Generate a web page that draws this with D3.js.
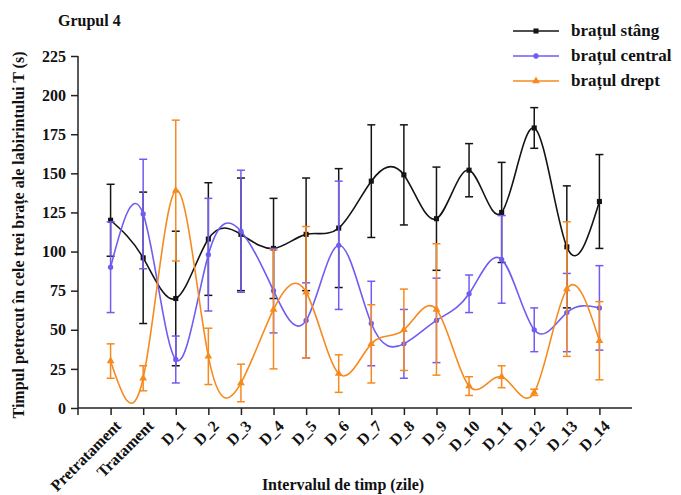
<!DOCTYPE html>
<html><head><meta charset="utf-8">
<script src="https://cdn.jsdelivr.net/npm/d3@7"></script>
<style>body{margin:0;background:#fff}svg{display:block}text{font-family:"Liberation Serif","Times New Roman",serif;font-weight:bold;fill:#111}</style>
</head><body><svg id="c" width="681" height="495"></svg>
<script>
const categories = ["Pretratament","Tratament","D_1","D_2","D_3","D_4","D_5","D_6","D_7","D_8","D_9","D_10","D_11","D_12","D_13","D_14"];
const stang      = [120, 96, 70, 108, 111, 102, 111, 115, 145, 149, 121, 152, 125, 179, 103, 132];
const stangErr   = [23, 42, 43, 36, 36, 32, 36, 38, 36, 32, 33, 17, 32, 13, 39, 30];
const central    = [90, 124, 31, 98, 113, 75, 56, 104, 54, 41, 56, 73, 95, 50, 61, 64];
const centralErr = [29, 35, 15, 36, 39, 27, 24, 41, 27, 22, 27, 12, 28, 14, 25, 27];
const drept      = [30, 19, 139, 33, 16, 63, 74, 22, 41, 50, 63, 14, 20, 10, 76, 43];
const dreptErr   = [11, 8, 45, 18, 12, 38, 42, 12, 25, 26, 42, 6, 7, 2, 43, 25];
const yTicks = [0,25,50,75,100,125,150,175,200,225];
const seriesNames = ["brațul stâng","brațul central","brațul drept"];

const series = [
  {name: seriesNames[0], vals: stang, errs: stangErr, color: "#141414", shape: d3.symbolSquare, size: 26},
  {name: seriesNames[1], vals: central, errs: centralErr, color: "#6f5cf2", shape: d3.symbolCircle, size: 22},
  {name: seriesNames[2], vals: drept, errs: dreptErr, color: "#f68a1f", shape: d3.symbolTriangle, size: 26}
];

const svg = d3.select("#c");
const x0 = 78, x1 = 632, yTop = 56, yBot = 408;
const x = d3.scalePoint().domain(categories).range([x0, x1]).padding(1);
const y = d3.scaleLinear().domain([0,225]).range([yBot, yTop]);

// Axes
const yAxis = svg.append("g").attr("transform", `translate(${x0},0)`)
  .call(d3.axisLeft(y).tickValues(yTicks).tickSize(7).tickPadding(5));
yAxis.select(".domain").attr("d", `M0,${yTop}V${yBot+7}`).attr("stroke","#222").attr("stroke-width",1.5);
yAxis.selectAll(".tick line").attr("stroke","#222").attr("stroke-width",1.5);
yAxis.selectAll(".tick text").style("font-size","16px").attr("fill","#111");

const xAxis = svg.append("g").attr("transform", `translate(0,${yBot})`)
  .call(d3.axisBottom(x).tickSize(7).tickSizeOuter(0));
xAxis.select(".domain").attr("d", `M${x0},0H${x1}`).attr("stroke","#222").attr("stroke-width",1.5);
xAxis.selectAll(".tick line").attr("stroke","#222").attr("stroke-width",1.5);
xAxis.selectAll(".tick text").style("font-size","16px")
  .attr("text-anchor","end").attr("dy",null).attr("y",0)
  .attr("transform","translate(11,19) rotate(-45)");

// Series
series.forEach(s => {
  const g = svg.append("g");
  const pts = categories.map((c,i)=>({c, v:s.vals[i], e:s.errs[i]}));
  pts.forEach(p => {
    const cx = x(p.c), t = y(p.v + p.e), b = y(Math.max(0,p.v - p.e));
    g.append("line").attr("x1",cx).attr("x2",cx).attr("y1",t).attr("y2",b).attr("stroke",s.color).attr("stroke-width",1.5);
    g.append("line").attr("x1",cx-4).attr("x2",cx+4).attr("y1",t).attr("y2",t).attr("stroke",s.color).attr("stroke-width",1.5);
    g.append("line").attr("x1",cx-4).attr("x2",cx+4).attr("y1",b).attr("y2",b).attr("stroke",s.color).attr("stroke-width",1.5);
  });
  const line = d3.line().x(d=>x(d.c)).y(d=>y(d.v)).curve(d3.curveNatural);
  g.append("path").datum(pts).attr("d",line).attr("fill","none").attr("stroke",s.color).attr("stroke-width",1.6);
  g.selectAll(".m").data(pts).join("path")
    .attr("transform",d=>`translate(${x(d.c)},${y(d.v)})`)
    .attr("d", d3.symbol().type(s.shape).size(s.size)).attr("fill",s.color);
});

// Legend
series.forEach((s,i) => {
  const ly = [31, 56, 81][i];
  svg.append("line").attr("x1",513).attr("x2",559).attr("y1",ly).attr("y2",ly).attr("stroke",s.color).attr("stroke-width",1.6);
  svg.append("path").attr("transform",`translate(536,${ly})`).attr("d",d3.symbol().type(s.shape).size(s.size)).attr("fill",s.color);
  svg.append("text").attr("x",571).attr("y",ly+5).style("font-size","17px").text(s.name);
});

// Titles
svg.append("text").attr("x",58).attr("y",26).style("font-size","16px").text("Grupul 4");
svg.append("text").attr("x",343).attr("y",490).attr("text-anchor","middle").style("font-size","16px").text("Intervalul de timp (zile)");
svg.append("text").attr("transform","translate(24,235) rotate(-90)").attr("text-anchor","middle").style("font-size","16px")
  .text("Timpul petrecut în cele trei brațe ale labirintului T (s)");
</script></body></html>
